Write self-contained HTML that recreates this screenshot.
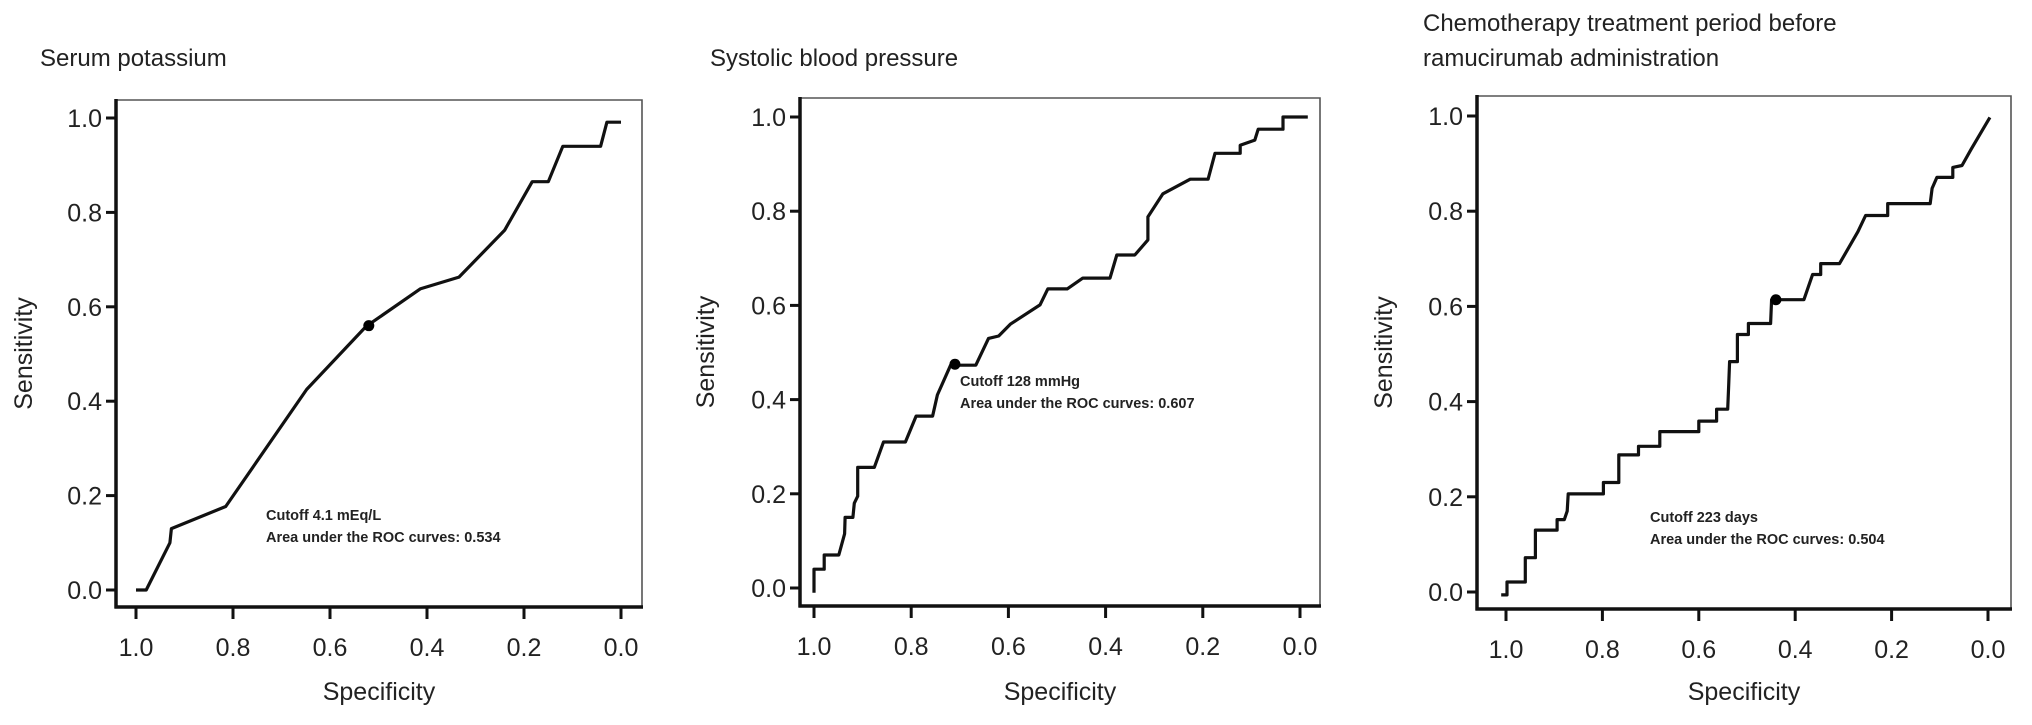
<!DOCTYPE html>
<html><head><meta charset="utf-8"><style>
html,body{margin:0;padding:0;background:#fff;}
svg text{font-family:"Liberation Sans",Arial,sans-serif;fill:#222;}
</style></head><body>
<svg id="fig" width="2032" height="720" viewBox="0 0 2032 720" xmlns="http://www.w3.org/2000/svg"></svg>
<script>
// Panel 1: Serum potassium
const spec1 = [1.0,0.979,0.93,0.927,0.815,0.648,0.526,0.414,0.334,0.24,0.183,0.15,0.12,0.042,0.029,0.0];
const sens1 = [0.0,0.0,0.10,0.13,0.177,0.425,0.558,0.638,0.663,0.762,0.865,0.865,0.94,0.94,0.991,0.991];
const cut1 = [0.52,0.56];
// Panel 2: Systolic blood pressure
const spec2 = [1.0,1.0,0.979,0.979,0.949,0.937,0.936,0.92,0.917,0.91,0.91,0.876,0.857,0.812,0.79,0.756,0.746,0.719,0.667,0.641,0.62,0.596,0.535,0.519,0.479,0.447,0.391,0.377,0.340,0.313,0.313,0.282,0.226,0.189,0.175,0.123,0.123,0.093,0.086,0.035,0.035,-0.016];
const sens2 = [-0.01,0.04,0.04,0.07,0.07,0.115,0.15,0.15,0.18,0.195,0.256,0.256,0.31,0.31,0.365,0.365,0.41,0.473,0.473,0.53,0.535,0.56,0.601,0.635,0.635,0.658,0.658,0.707,0.707,0.739,0.788,0.837,0.868,0.868,0.923,0.923,0.94,0.951,0.974,0.974,1.0,1.0];
const cut2 = [0.71,0.475];
// Panel 3: Chemotherapy treatment period
const spec3 = [1.01,0.998,0.998,0.96,0.96,0.939,0.939,0.894,0.894,0.879,0.873,0.871,0.798,0.798,0.766,0.766,0.725,0.725,0.681,0.681,0.6,0.6,0.563,0.563,0.54,0.538,0.536,0.52,0.52,0.497,0.497,0.451,0.449,0.382,0.364,0.347,0.347,0.308,0.27,0.254,0.208,0.208,0.12,0.116,0.106,0.073,0.073,0.054,0.035,-0.004];
const sens3 = [-0.006,-0.006,0.021,0.021,0.072,0.072,0.13,0.13,0.152,0.152,0.17,0.206,0.206,0.23,0.23,0.288,0.288,0.306,0.306,0.337,0.337,0.359,0.359,0.384,0.384,0.435,0.484,0.484,0.541,0.541,0.564,0.564,0.614,0.614,0.667,0.667,0.69,0.69,0.757,0.791,0.791,0.816,0.816,0.848,0.871,0.871,0.892,0.896,0.93,0.997];
const cut3 = [0.44,0.614];
const tickVals = [1.0,0.8,0.6,0.4,0.2,0.0];
const tickLabels = ["1.0","0.8","0.6","0.4","0.2","0.0"];

const NS="http://www.w3.org/2000/svg";
const svg=document.getElementById('fig');
function mk(tag,attrs,parent){const e=document.createElementNS(NS,tag);for(const k in attrs)e.setAttribute(k,attrs[k]);(parent||svg).appendChild(e);return e;}

const panels=[
 {id:'p1',spec:spec1,sens:sens1,cut:cut1,x1:136,x0:621,y0:590,y1:118,L:116,R:642,T:100,B:607,
  title:['Serum potassium'],tx:40,ty:[66],sx:32,ann:['Cutoff 4.1 mEq/L','Area under the ROC curves:  0.534'],ax:266,ay:520},
 {id:'p2',spec:spec2,sens:sens2,cut:cut2,x1:814,x0:1300,y0:588,y1:117,L:800,R:1320,T:98,B:606,
  title:['Systolic blood pressure'],tx:710,ty:[66],sx:714,ann:['Cutoff 128 mmHg','Area under the ROC curves:  0.607'],ax:960,ay:386},
 {id:'p3',spec:spec3,sens:sens3,cut:cut3,x1:1506,x0:1988,y0:592,y1:116,L:1477,R:2011,T:96,B:609,
  title:['Chemotherapy treatment period before','ramucirumab administration'],tx:1423,ty:[31,66],sx:1392,ann:['Cutoff 223 days','Area under the ROC curves:  0.504'],ax:1650,ay:522}
];

panels.forEach(p=>{
  const g=mk('g',{});
  
  
  const X=v=>p.x0+(p.x1-p.x0)*v;
  const Y=v=>p.y0+(p.y1-p.y0)*v;
  p.title.forEach((t,i)=>{const e=mk('text',{x:p.tx,y:p.ty[i],'font-size':24},g);e.textContent=t;
    });
  const fr=mk('path',{d:`M${p.L},${p.T}H${p.R}V${p.B}`,stroke:'#555',fill:'none','stroke-width':1.6},g);
  
  const ya=mk('line',{x1:p.L,y1:p.T-1,x2:p.L,y2:p.B+1.5,stroke:'#111','stroke-width':3.5},g);
  
  const xa=mk('line',{x1:p.L-1.5,y1:p.B,x2:p.R+1,y2:p.B,stroke:'#111','stroke-width':3.5},g);
  
  tickVals.forEach((v,i)=>{
    const ty=Y(v);
    const yt=mk('line',{x1:p.L-10,y1:ty,x2:p.L,y2:ty,stroke:'#111','stroke-width':3},g);
    
    const yl=mk('text',{x:p.L-14,y:ty+9,'font-size':25,'text-anchor':'end'},g);yl.textContent=tickLabels[i];
    
    const tx=X(v);
    const xt=mk('line',{x1:tx,y1:p.B,x2:tx,y2:p.B+12,stroke:'#111','stroke-width':3},g);
    
    const xl=mk('text',{x:tx,y:p.B+49,'font-size':25,'text-anchor':'middle'},g);xl.textContent=tickLabels[i];
    
  });
  const xt=mk('text',{x:(p.L+p.R)/2,y:700,'font-size':25,'text-anchor':'middle'},g);xt.textContent='Specificity';
  
  const cy=(p.T+p.B)/2;
  const yt=mk('text',{x:p.sx,y:cy,'font-size':25,'text-anchor':'middle',transform:`rotate(-90 ${p.sx} ${cy})`},g);yt.textContent='Sensitivity';
  
  let d='';
  p.spec.forEach((s,i)=>{d+=(i?'L':'M')+X(s).toFixed(1)+','+Y(p.sens[i]).toFixed(1);});
  const c=mk('path',{d:d,stroke:'#111',fill:'none','stroke-width':3.2,'stroke-linejoin':'round'},g);
  
  const dot=mk('circle',{cx:X(p.cut[0]),cy:Y(p.cut[1]),r:5.5,fill:'#000'},g);
  
  p.ann.forEach((t,i)=>{const e=mk('text',{x:p.ax,y:p.ay+i*22,'font-size':14.5,'font-weight':'bold'},g);e.textContent=t;
    });
});
</script>
</body></html>
